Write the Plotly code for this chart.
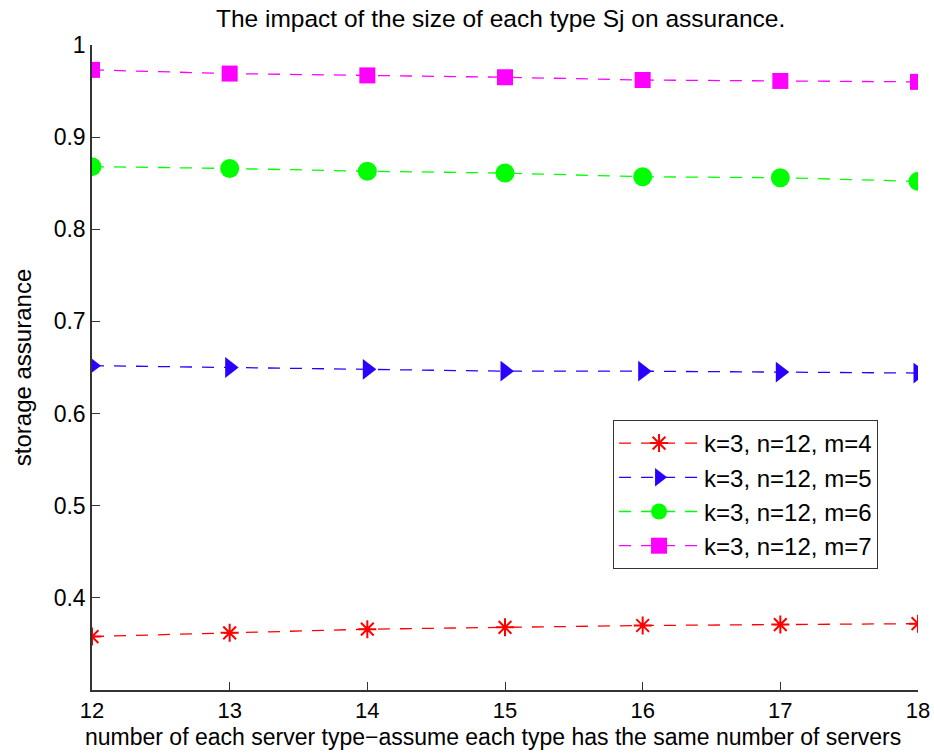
import plotly.graph_objects as go

x_vals = [12, 13, 14, 15, 16, 17, 18]
m4 = [0.358, 0.362, 0.366, 0.368, 0.370, 0.371, 0.372]
m5 = [0.652, 0.650, 0.648, 0.646, 0.646, 0.645, 0.644]
m6 = [0.868, 0.866, 0.863, 0.861, 0.857, 0.856, 0.852]
m7 = [0.973, 0.969, 0.967, 0.965, 0.962, 0.961, 0.960]
names = ["k=3, n=12, m=4", "k=3, n=12, m=5", "k=3, n=12, m=6", "k=3, n=12, m=7"]
y_ticks = [0.4, 0.5, 0.6, 0.7, 0.8, 0.9, 1.0]
y_tick_text = ["0.4", "0.5", "0.6", "0.7", "0.8", "0.9", "1"]

series = [
    (m4, names[0], "#ff0000", "asterisk-open", 15),
    (m5, names[1], "#2a00ff", "triangle-right", 18),
    (m6, names[2], "#00ff00", "circle", 19),
    (m7, names[3], "#ff00ff", "square", 16),
]

fig = go.Figure()
for ys, nm, col, sym, sz in series:
    fig.add_trace(go.Scatter(
        x=x_vals, y=ys, name=nm, mode="lines+markers",
        line=dict(color=col, width=1.3, dash="12px,10px"),
        marker=dict(symbol=sym, size=sz, color=col, line=dict(color=col, width=2 if sym == "asterisk-open" else 0)),
    ))

FONT = "Liberation Sans, Arial"
fig.update_layout(
    width=934, height=753,
    margin=dict(l=92, r=16, t=45, b=63),
    paper_bgcolor="white", plot_bgcolor="white",
    title=dict(text="The impact of the size of each type Sj on assurance.", x=0.536, xanchor="center",
               y=0.975, yanchor="middle",
               font=dict(family=FONT, size=24.5, color="#000")),
    xaxis=dict(range=[12, 18], tickvals=x_vals, ticks="inside", ticklen=8, tickcolor="#333",
               showline=True, linecolor="#333", linewidth=1.5, showgrid=False, zeroline=False,
               tickfont=dict(family=FONT, size=22, color="#000"), automargin=False, ticklabelstandoff=0),
    yaxis=dict(range=[0.3, 1.0], tickvals=y_ticks, ticktext=y_tick_text,
               ticks="inside", ticklen=8, tickcolor="#333",
               showline=True, linecolor="#333", linewidth=1.5, showgrid=False, zeroline=False,
               tickfont=dict(family=FONT, size=23, color="#000"), automargin=False,
               title=dict(text="storage assurance", font=dict(family=FONT, size=24, color="#000"),
                          standoff=15)),
    legend=dict(x=0.6308, y=0.4186, xanchor="left", yanchor="top",
                bgcolor="white", bordercolor="#333", borderwidth=1,
                font=dict(family=FONT, size=24, color="#000"),
                itemwidth=80, tracegroupgap=0),
    showlegend=True,
    annotations=[dict(
        text="number of each server type\u2212assume each type has the same number of servers",
        xref="paper", yref="paper", x=0.4855, y=-0.0735, xanchor="center", yanchor="middle",
        showarrow=False, font=dict(family=FONT, size=23, color="#000"))],
)

fig.write_html("out.html")
